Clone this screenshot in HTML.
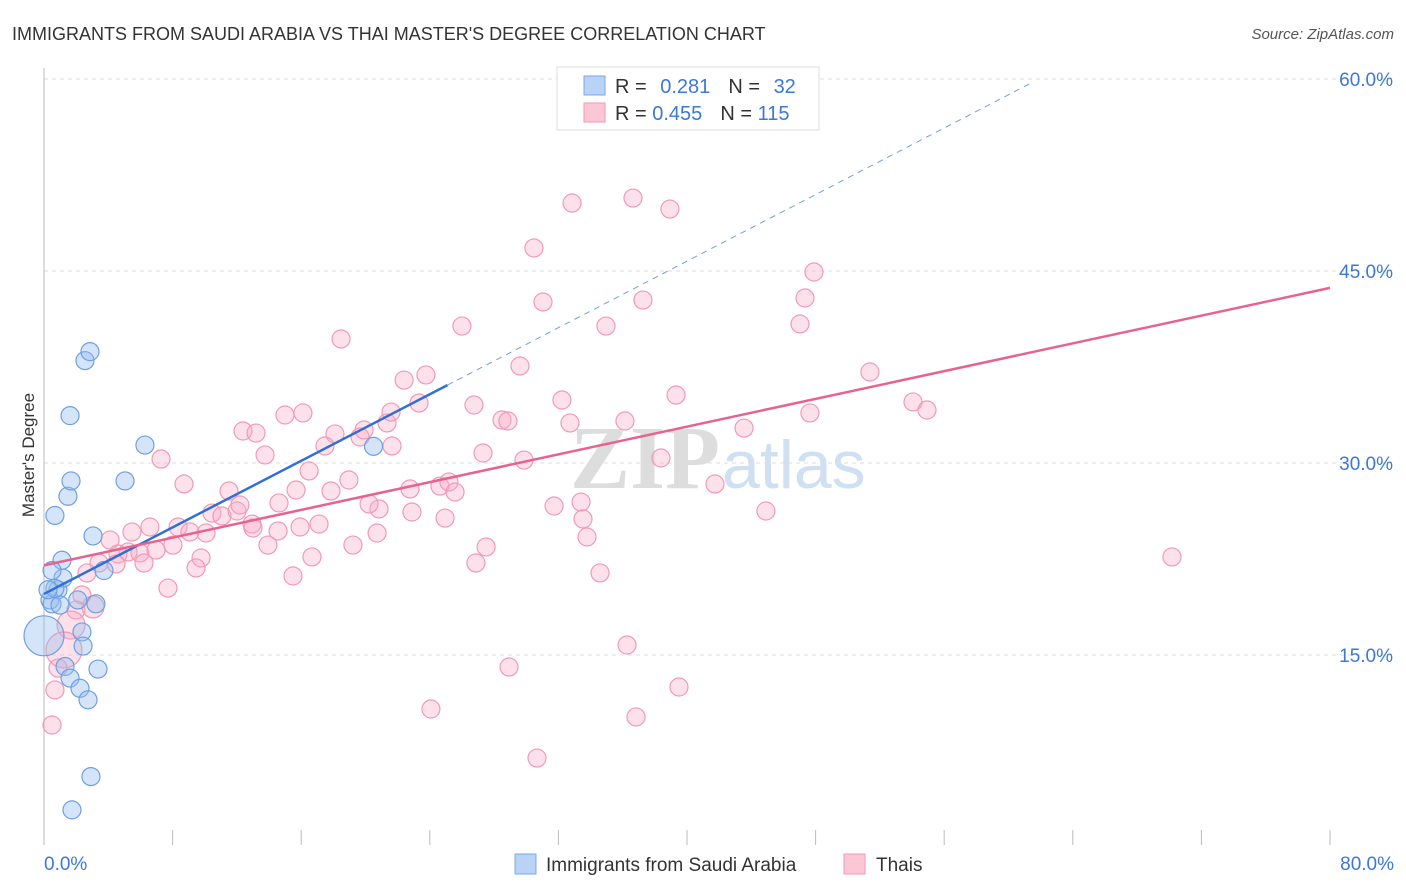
<!DOCTYPE html>
<html><head><meta charset="utf-8"><style>
body{margin:0;background:#fff;font-family:"Liberation Sans",sans-serif}
#wrap{position:relative;width:1406px;height:892px;overflow:hidden}
</style></head><body>
<div id="wrap">
<svg id="svg" width="1406" height="892" xmlns="http://www.w3.org/2000/svg">
<text x="12" y="40" font-size="18" fill="#333">IMMIGRANTS FROM SAUDI ARABIA VS THAI MASTER'S DEGREE CORRELATION CHART</text>
<text x="1394" y="39" font-size="15" fill="#555" font-style="italic" text-anchor="end">Source: ZipAtlas.com</text>
<text x="34" y="455" font-size="17" fill="#333" text-anchor="middle" transform="rotate(-90 34 455)">Master's Degree</text>
<text x="720" y="488" font-size="90" fill="#ddd" text-anchor="end" font-family="Liberation Serif" font-weight="bold">ZIP</text>
<text x="722" y="488" font-size="68" fill="#cfe0f3">atlas</text>
<g id="grid"></g><g id="pts"></g><g id="lines"></g>
<g>
<rect x="557" y="67" width="262" height="63" fill="#fff" stroke="#ddd"/>
<rect x="584" y="76" width="21" height="19" fill="#b8d3f5" stroke="#7aa8e6"/>
<rect x="584" y="103" width="21" height="19" fill="#fcc6d6" stroke="#ee99b3"/>
<text x="615" y="93" font-size="20" fill="#333">R = <tspan fill="#3c78d8" dx="8">0.281</tspan><tspan dx="18">N = </tspan><tspan fill="#3c78d8" dx="8">32</tspan></text>
<text x="615" y="120" font-size="20" fill="#333">R = <tspan fill="#3c78d8">0.455</tspan><tspan dx="18">N = </tspan><tspan fill="#3c78d8">115</tspan></text>
</g>
<g>
<rect x="515" y="854" width="21" height="20" fill="#b8d3f5" stroke="#7aa8e6"/>
<text x="546" y="871" font-size="19" fill="#333">Immigrants from Saudi Arabia</text>
<rect x="844" y="854" width="21" height="20" fill="#fcc6d6" stroke="#ee99b3"/>
<text x="876" y="871" font-size="19" fill="#333">Thais</text>
</g>
</svg>
</div>
<script>
const xTickLabels=["0.0%","80.0%"];
const yTicks=[15,30,45,60];
const yTickLabels=["15.0%","30.0%","45.0%","60.0%"];
const saudiX=[0.68,0.37,0.5,0.87,1.12,1.18,0.68,1.62,1.49,1.68,2.55,2.86,3.05,3.73,3.23,2.36,2.43,1.31,1.62,2.24,2.74,3.36,2.92,1.74,5.04,6.28,20.5,0,0.25,1.0,0.5,2.1];
const saudiY=[25.9,19.3,19.0,20.1,22.4,21.0,20.2,33.7,27.4,28.6,38.0,38.7,24.3,21.6,19.0,16.8,15.7,14.1,13.2,12.4,11.5,13.9,5.5,2.9,28.6,31.4,31.3,16.5,20.1,18.9,21.6,19.3];
const saudiR=[9,9,9,9,9,9,9,9,9,9,9,9,9,9,9,9,9,9,9,9,9,9,9,9,9,9,9,20,9,9,9,9];
const thaiPx=[[633,198],[572,203],[670,209],[534,248],[814,272],[543,302],[643,300],[805,298],[462,326],[606,326],[800,324],[341,339],[404,380],[426,375],[520,366],[870,372],[562,400],[676,395],[913,402],[927,410],[419,403],[474,405],[502,420],[508,421],[570,423],[625,421],[810,413],[744,428],[387,423],[391,412],[243,431],[256,433],[303,413],[285,415],[335,434],[360,437],[364,430],[392,446],[325,446],[265,455],[161,459],[483,453],[524,460],[661,458],[184,484],[229,491],[296,490],[331,491],[349,480],[309,471],[410,489],[440,486],[449,482],[455,492],[715,484],[554,506],[581,502],[766,511],[212,513],[222,516],[237,511],[240,505],[279,503],[379,509],[412,512],[445,518],[369,504],[583,519],[587,537],[319,524],[252,524],[150,527],[178,527],[190,532],[206,533],[132,532],[278,531],[110,540],[118,554],[128,552],[140,553],[156,550],[173,545],[268,545],[353,545],[377,533],[486,547],[600,573],[99,563],[116,564],[144,563],[201,558],[312,557],[476,563],[196,568],[293,576],[87,573],[168,588],[82,595],[76,610],[93,607],[71,625],[64,650],[58,668],[55,690],[52,725],[627,645],[509,667],[679,687],[431,709],[636,717],[537,758],[1172,557],[300,527],[253,528]];
// values (%)
const thaiX=thaiPx.map(p=>+((p[0]-44)/16.075).toFixed(2));
const thaiY=thaiPx.map(p=>+((847-p[1])/12.8).toFixed(2));
const thaiR=thaiX.map((v,i)=>i===thaiX.length-13?18:(i===thaiX.length-14?14:(i===thaiX.length-15?11:9)));
const saudiTrend=[19.77,0.65];
const thaiTrend=[22.0,0.271];
const X=v=>44+v*16.075, Y=v=>847-v*12.8;
const NS="http://www.w3.org/2000/svg";
function mk(tag,attrs,parent){const e=document.createElementNS(NS,tag);for(const k in attrs)e.setAttribute(k,attrs[k]);parent.appendChild(e);return e;}
const svg=document.getElementById('svg'),grid=document.getElementById('grid'),pts=document.getElementById('pts'),lines=document.getElementById('lines');
yTicks.forEach((t,i)=>{
 const l=mk('line',{x1:44,x2:1394,y1:Y(t),y2:Y(t),stroke:'#ddd','stroke-dasharray':'4,4'},grid);
 
 
 const tx=mk('text',{x:1393,y:Y(t)+7,'font-size':19,fill:'#3c78d8','text-anchor':'end'},grid);
 tx.textContent=yTickLabels[i];
 
 
});
const ax=mk('line',{x1:44,x2:44,y1:68,y2:845,stroke:'#bbb'},grid);


for(let v=0;v<=80;v+=8){
 const t=mk('line',{x1:X(v),x2:X(v),y1:830,y2:845,stroke:'#bbb'},grid);
 
 
}
[[0,'start',44],[80,'end',1394]].forEach((d,i)=>{
 const t=mk('text',{x:d[2],y:870,'font-size':19,fill:'#3c78d8','text-anchor':d[1]},grid);
 t.textContent=xTickLabels[i];
 
 
});
thaiX.forEach((x,i)=>{
 const c=mk('circle',{cx:X(x),cy:Y(thaiY[i]),r:thaiR[i],fill:'rgba(248,170,195,0.35)',stroke:'#f09ab5','stroke-width':1.2},pts);
 
 
});
saudiX.forEach((x,i)=>{
 const c=mk('circle',{cx:X(x),cy:Y(saudiY[i]),r:saudiR[i],fill:'rgba(150,190,240,0.4)',stroke:'#6f9fe0','stroke-width':1.2},pts);
 
 
});
const l1=mk('line',{x1:X(0),y1:Y(saudiTrend[0]),x2:X(25.1),y2:Y(saudiTrend[0]+saudiTrend[1]*25.1),stroke:'#2f6fd6','stroke-width':2.5},lines);


const l2=mk('line',{x1:X(25.1),y1:Y(saudiTrend[0]+saudiTrend[1]*25.1),x2:X(61.4),y2:Y(saudiTrend[0]+saudiTrend[1]*61.4),stroke:'#6f9fe0','stroke-width':1,'stroke-dasharray':'6,5'},lines);


const l3=mk('line',{x1:X(0),y1:Y(thaiTrend[0]),x2:X(80),y2:Y(thaiTrend[0]+thaiTrend[1]*80),stroke:'#e8628e','stroke-width':2.5},lines);


</script>
</body></html>
